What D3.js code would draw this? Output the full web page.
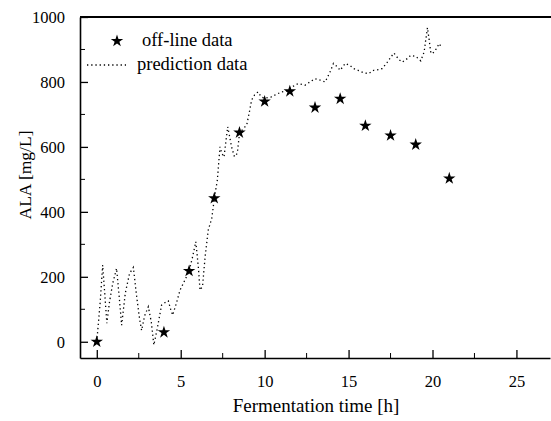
<!DOCTYPE html>
<html>
<head>
<meta charset="utf-8">
<script src="https://cdn.jsdelivr.net/npm/d3@7"></script>
<style>
    body {margin: 0; background: white;}
</style>
</head>
<body>
<div id="chart"></div>
<script>
var offlineTime = [0, 4, 5.5, 7, 8.5, 10, 11.5, 13, 14.5, 16, 17.5, 19, 21];
var offlineValue = [0, 29, 218, 442, 644, 740, 771, 721, 748, 665, 635, 607, 503];

var predTime = [0, 0.2, 0.35, 0.5, 0.6, 0.75, 0.95, 1.18, 1.35, 1.48, 1.7, 1.95,
    2.18, 2.35, 2.55, 2.67, 2.85, 3.07, 3.25, 3.4, 3.6, 3.86, 4.05, 4.26, 4.4,
    4.52, 4.75, 4.96, 5.25, 5.5, 5.7, 5.9, 6.05, 6.15, 6.3, 6.45, 6.64, 6.85, 7.0,
    7.18, 7.34, 7.45, 7.58, 7.7, 7.8, 7.92, 8.03, 8.2, 8.37, 8.5, 8.7, 8.93, 9.1,
    9.22, 9.4, 9.6, 9.8, 10.0, 10.4, 10.7, 11.0, 11.3, 11.5, 11.8, 12.0, 12.4,
    12.7, 13.0, 13.3, 13.6, 13.9, 14.1, 14.3, 14.5, 14.8, 15.1, 15.3, 15.6, 15.9,
    16.2, 16.5, 16.8, 17.0, 17.3, 17.5, 17.7, 18.0, 18.2, 18.5, 18.7, 19.0, 19.3,
    19.5, 19.6, 19.7, 19.8, 19.9, 20.0, 20.2, 20.4, 20.55];
var predValue = [0, 120, 236, 130, 57, 120, 180, 226, 130, 51, 150, 210,
    229, 150, 70, 35, 80, 108, 60, -10, 40, 113, 120, 126, 100,
    82, 120, 159, 190, 218, 260, 308, 230, 159, 170, 260, 344, 380, 440,
    497, 600, 580, 569, 620, 662, 630, 600, 570, 580, 640, 655, 667, 710,
    744, 760, 769, 754, 750, 754, 762, 769, 772, 780, 790, 795, 790,
    800, 810, 806, 800, 831, 857, 848, 836, 857, 850, 841, 835, 828,
    826, 836, 838, 841, 860, 875, 889, 869, 861, 872, 882, 879, 865,
    892, 930, 967, 930, 890, 887, 900, 918, 905];

var xMajorTicks = [0, 5, 10, 15, 20, 25];
var xMinorTicks = [2.5, 7.5, 12.5, 17.5, 22.5];
var yMajorTicks = [0, 200, 400, 600, 800, 1000];
var yMinorTicks = [100, 300, 500, 700, 900];

var legendLabels = ['off-line data', 'prediction data'];

var width = 551;
var height = 421;
var plot = {left: 80, right: 550, top: 17, bottom: 358};
var serif = "'Liberation Serif', 'Times New Roman', Times, 'DejaVu Serif', serif";

var svg = d3.select('#chart').append('svg')
    .attr('width', width)
    .attr('height', height)
    .attr('font-family', serif)

var x = d3.scaleLinear().domain([-1, 27]).range([plot.left, plot.right]);
var y = d3.scaleLinear().domain([-50, 1000]).range([plot.bottom, plot.top]);

// axes: inward ticks, like the original plotting program
var xAxis = svg.append('g')
    .attr('transform', 'translate(0,' + plot.bottom + ')')
    .call(d3.axisBottom(x).tickValues(xMajorTicks).tickSizeInner(-8).tickSizeOuter(0)
        .tickPadding(17).tickFormat(d3.format('d')));
xAxis.append('g').selectAll('line').data(xMinorTicks)
    .enter()
        .append('line')
        .attr('x1', function(d, i){return x(d)})
        .attr('x2', function(d, i){return x(d)})
        .attr('y1', 0)
        .attr('y2', -5)
        .attr('stroke', 'black')

var yAxis = svg.append('g')
    .attr('transform', 'translate(' + plot.left + ',0)')
    .call(d3.axisLeft(y).tickValues(yMajorTicks).tickSizeInner(-8).tickSizeOuter(0)
        .tickPadding(15).tickFormat(d3.format('d')));
yAxis.append('g').selectAll('line').data(yMinorTicks)
    .enter()
        .append('line')
        .attr('y1', function(d, i){return y(d)})
        .attr('y2', function(d, i){return y(d)})
        .attr('x1', 0)
        .attr('x2', 5)
        .attr('stroke', 'black')

svg.selectAll('g').attr('font-family', serif);
svg.selectAll('.tick text').attr('font-size', 16.5).attr('fill', 'black');
svg.selectAll('.domain').attr('stroke-width', 1.6);
svg.selectAll('.tick line').attr('stroke-width', 1.3);

svg.append('line')
    .attr('x1', plot.left)
    .attr('x2', plot.right + 1)
    .attr('y1', plot.top)
    .attr('y2', plot.top)
    .attr('stroke', 'black')
    .attr('stroke-width', 1.8)

// prediction data (dotted)
var line = d3.line()
    .x(function(d, i){return x(d)})
    .y(function(d, i){return y(predValue[i])});

svg.append('path')
    .datum(predTime)
    .attr('d', line)
    .attr('fill', 'none')
    .attr('stroke', 'black')
    .attr('stroke-width', 1.3)
    .attr('stroke-dasharray', '1.3,2.9')

// off-line data (stars)
var star = d3.symbol().type(d3.symbolStar).size(48);
svg.append('g').selectAll('path').data(offlineTime)
    .enter()
        .append('path')
        .attr('d', star)
        .attr('transform', function(d, i){
            return 'translate(' + x(d) + ',' + y(offlineValue[i]) + ')'})
        .attr('fill', 'black')

// legend
var legend = svg.append('g').attr('font-size', 18.5);
legend.append('path')
    .attr('d', star)
    .attr('transform', 'translate(117,41)')
    .attr('fill', 'black')
legend.append('text')
    .attr('x', 142)
    .attr('y', 46)
    .text(legendLabels[0])
legend.append('line')
    .attr('x1', 87)
    .attr('x2', 126)
    .attr('y1', 65)
    .attr('y2', 65)
    .attr('stroke', 'black')
    .attr('stroke-width', 1.3)
    .attr('stroke-dasharray', '1.3,2.9')
legend.append('text')
    .attr('x', 137)
    .attr('y', 70)
    .text(legendLabels[1])

// axis titles
svg.append('text')
    .attr('x', 316)
    .attr('y', 412)
    .attr('text-anchor', 'middle')
    .attr('font-size', 19)
    .text('Fermentation time [h]')

svg.append('text')
    .attr('transform', 'translate(31,175) rotate(-90)')
    .attr('text-anchor', 'middle')
    .attr('font-size', 17.5)
    .text('ALA [mg/L]')
</script>
</body>
</html>
